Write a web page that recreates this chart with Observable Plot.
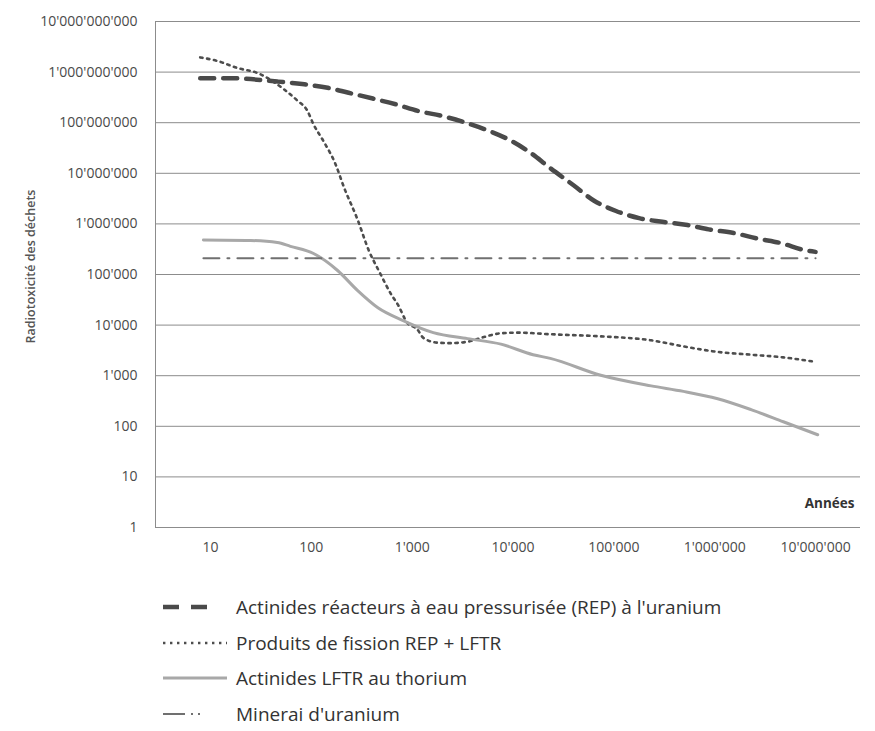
<!DOCTYPE html>
<html>
<head>
<meta charset="utf-8">
<script src="https://cdn.jsdelivr.net/npm/d3@7"></script>
<script src="https://cdn.jsdelivr.net/npm/@observablehq/plot@0.6"></script>
<style>
  body { margin: 0; background: #fff; font-family: "Open Sans", sans-serif; }
  #legend { margin-top: 24px; padding-left: 163px; color: #333; font-size: 19px; }
  .row { height: 35.7px; display: flex; align-items: center; }
  .row svg { flex: none; }
  .row span { margin-left: 2px; white-space: nowrap; }
</style>
</head>
<body>
<div id="chart"></div>
<div id="legend"></div>
<script>
// Tick values
const xTicks = [10, 100, 1000, 10000, 100000, 1000000, 10000000];
const yTicks = [1, 10, 100, 1000, 10000, 100000, 1000000, 10000000, 100000000, 1000000000, 10000000000];

// Series names
const seriesNames = [
  "Actinides réacteurs à eau pressurisée (REP) à l'uranium",
  "Produits de fission  REP + LFTR",
  "Actinides LFTR au thorium",
  "Minerai d'uranium"
];

// Actinides REP (uranium)
const repYears  = [7.9, 15, 46, 81, 145, 234, 407, 692, 1150, 2000, 3390, 5750, 9550, 15500, 22400, 39800, 63100, 105000, 178000, 302000, 537000, 871000, 1550000, 2690000, 4470000, 7940000, 10000000];
const repValues = [7.6e8, 7.6e8, 6.5e8, 5.8e8, 4.9e8, 3.9e8, 3.0e8, 2.3e8, 1.7e8, 1.35e8, 1.0e8, 6.9e7, 4.4e7, 2.4e7, 1.35e7, 5.8e6, 2.9e6, 1.8e6, 1.3e6, 1.1e6, 9.5e5, 7.8e5, 6.6e5, 5.1e5, 4.2e5, 3.0e5, 2.8e5];

// Produits de fission REP + LFTR
const pfYears  = [7.9, 11.7, 18.6, 29.5, 39.8, 52.5, 72.4, 91, 105, 132, 174, 209, 288, 372, 468, 617, 724, 891, 1120, 1290, 1780, 2400, 3550, 5130, 7590, 11200, 23400, 74100, 234000, 490000, 1070000, 2290000, 4790000, 9550000];
const pfValues = [1.95e9, 1.66e9, 1.2e9, 9.5e8, 6.9e8, 4.7e8, 2.75e8, 1.74e8, 9.3e7, 4.3e7, 1.5e7, 5.5e6, 1.2e6, 2.95e5, 1.17e5, 4.1e4, 2.5e4, 1.12e4, 8.3e3, 5.6e3, 4.5e3, 4.4e3, 4.7e3, 5.8e3, 6.9e3, 7.1e3, 6.6e3, 6.0e3, 5.0e3, 3.8e3, 2.95e3, 2.6e3, 2.3e3, 1.9e3];

// Actinides LFTR (thorium)
const lftrYears  = [8.5, 25, 46, 62, 105, 182, 288, 457, 813, 1620, 3550, 7590, 15800, 23400, 74100, 234000, 490000, 1070000, 2290000, 4790000, 10500000];
const lftrValues = [4.8e5, 4.7e5, 4.3e5, 3.6e5, 2.6e5, 1.2e5, 4.8e4, 2.2e4, 1.23e4, 7.1e3, 5.4e3, 4.2e3, 2.6e3, 2.2e3, 1020, 630, 490, 350, 214, 123, 68];

// Minerai d'uranium
const oreYears  = [8.5, 100, 10000, 1000000, 10000000];
const oreValues = [2.1e5, 2.1e5, 2.1e5, 2.1e5, 2.1e5];

const styles = [
  {stroke: "#4a4a4a", strokeWidth: 4.5, strokeDasharray: "14,9"},
  {stroke: "#4d4d4d", strokeWidth: 2.6, strokeDasharray: "2.4,4.6"},
  {stroke: "#a8a8a8", strokeWidth: 3, strokeDasharray: null},
  {stroke: "#707070", strokeWidth: 2, strokeDasharray: "16,8,2,8"}
];
const legendDash = ["16,12", "2.4,4.6", null, "22,6,2,5,2,40"];

const toRows = (xs, ys) => xs.map((x, i) => ({x, y: ys[i]}));
const series = [
  toRows(repYears, repValues),
  toRows(pfYears, pfValues),
  toRows(lftrYears, lftrValues),
  toRows(oreYears, oreValues)
];

const fmt = d => d3.format(",")(d).replace(/,/g, "'");
const xMin = 2.847, xMax = 2.79e7;

const chart = Plot.plot({
  width: 875,
  height: 565,
  marginLeft: 155,
  marginRight: 15,
  marginTop: 21,
  marginBottom: 38,
  style: {fontFamily: "Open Sans", fontSize: "14px", color: "#4a4a4a", background: "white"},
  x: {type: "log", domain: [xMin, xMax]},
  y: {type: "log", domain: [1, 1e10]},
  marks: [
    Plot.ruleY(yTicks, {stroke: "#8c8c8c", strokeWidth: 1}),
    Plot.ruleX([xMin], {stroke: "#8c8c8c", strokeWidth: 1}),
    Plot.axisY(yTicks, {tickSize: 0, tickPadding: 18, tickFormat: fmt, label: null}),
    Plot.axisX(xTicks, {tickSize: 0, tickPadding: 15, tickFormat: fmt, label: null}),
    ...series.map((data, i) => Plot.line(data, {x: "x", y: "y", curve: "monotone-x", ...styles[i]})),
    Plot.text(["Années"], {frameAnchor: "bottom-right", dx: -6, dy: -20, fontWeight: "bold", fontSize: 13.5, fill: "#333"}),
    Plot.text(["Radiotoxicité des déchets"], {frameAnchor: "left", dx: -125, dy: -8, rotate: -90, textAnchor: "middle", fontSize: 12.5, fontWeight: 600, fill: "#555"})
  ]
});
document.getElementById("chart").appendChild(chart);

// Legend
const legend = d3.select("#legend");
seriesNames.forEach((name, i) => {
  const row = legend.append("div").attr("class", "row");
  const svg = row.append("svg").attr("width", 71).attr("height", 12);
  const s = styles[i];
  svg.append("line")
    .attr("x1", 0).attr("x2", i === 0 ? 50 : 64).attr("y1", 6).attr("y2", 6)
    .attr("stroke", s.stroke).attr("stroke-width", s.strokeWidth)
    .attr("stroke-dasharray", legendDash[i]);
  row.append("span").text(name);
});
</script>
</body>
</html>
